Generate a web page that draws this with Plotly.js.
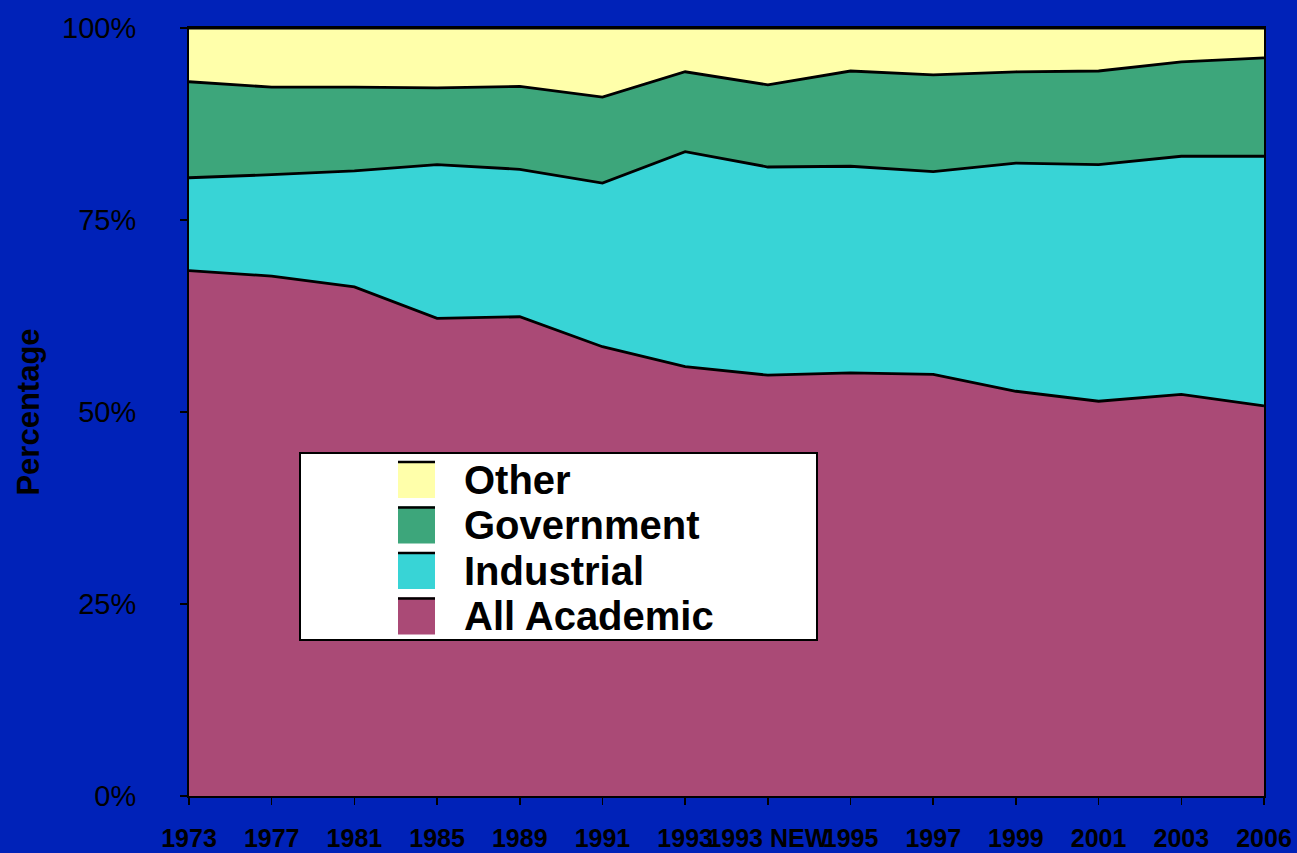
<!DOCTYPE html>
<html>
<head>
<meta charset="utf-8">
<script src="https://cdn.plot.ly/plotly-3.0.1.min.js"></script>
<style>
html,body{margin:0;padding:0;background:#0022B8;}
#chart{width:1297px;height:853px;}
</style>
</head>
<body>
<div id="chart"></div>
<script>
// ---- data ----
var years = ["1973","1977","1981","1985","1989","1991","1993","1993 NEW","1995","1997","1999","2001","2003","2006"];
var allAcademic = [68.4, 67.7, 66.3, 62.2, 62.4, 58.5, 55.9, 54.8, 55.1, 54.9, 52.7, 51.4, 52.3, 50.8];
var industrial  = [12.1, 13.2, 15.1, 20.0, 19.2, 21.3, 28.0, 27.1, 26.9, 26.4, 29.7, 30.8, 31.0, 32.5];
var government  = [12.5, 11.4, 10.9, 10.0, 10.8, 11.2, 10.4, 10.7, 12.4, 12.6, 11.9, 12.2, 12.3, 12.8];
var other       = [7.0, 7.7, 7.7, 7.8, 7.6, 9.0, 5.7, 7.4, 5.6, 6.1, 5.7, 5.6, 4.4, 3.9];
var seriesNames = ["All Academic", "Industrial", "Government", "Other"];
var seriesColors = ["#AA4A76", "#38D4D6", "#3DA67B", "#FFFFAA"];
var yTickVals = [0, 25, 50, 75, 100];
var yTickText = ["0%", "25%", "50%", "75%", "100%"];

(function () {
var seriesValues = [allAcademic, industrial, government, other];
var traces = seriesValues.map(function (vals, i) {
  return {
    type: "scatter",
    mode: "lines",
    x: years,
    y: vals,
    name: seriesNames[i],
    stackgroup: "one",
    fillcolor: seriesColors[i],
    line: {color: "#000000", width: 2.8},
    hoverinfo: "x+y+name"
  };
});

// plot area in pixels
var L = 189, R = 1264, T = 28, B = 796;
function px(xp) { return (xp - L) / (R - L); }
function py(yp) { return (B - yp) / (B - T); }

var shapes = [];
var annotations = [];
// legend box
shapes.push({type: "rect", xref: "paper", yref: "paper",
  x0: px(300), x1: px(817), y0: py(640), y1: py(453),
  fillcolor: "#FFFFFF", line: {color: "#000000", width: 2}, layer: "above"});
// legend entries, top to bottom: reversed series order
for (var k = 0; k < seriesNames.length; k++) {
  var idx = seriesNames.length - 1 - k;
  var rowTop = 461 + 45.5 * k;
  shapes.push({type: "rect", xref: "paper", yref: "paper",
    x0: px(398), x1: px(435), y0: py(rowTop + 37), y1: py(rowTop),
    fillcolor: seriesColors[idx], line: {width: 0}, layer: "above"});
  shapes.push({type: "line", xref: "paper", yref: "paper",
    x0: px(398), x1: px(435), y0: py(rowTop + 1), y1: py(rowTop + 1),
    line: {color: "#000000", width: 2.5}, layer: "above"});
  annotations.push({xref: "paper", yref: "paper", x: px(462), y: py(rowTop + 18.5),
    xanchor: "left", yanchor: "middle", showarrow: false,
    text: "<b>" + seriesNames[idx] + "</b>",
    font: {family: "Liberation Sans, Arial, sans-serif", size: 40, color: "#000000"}});
}

var layout = {
  width: 1297, height: 853,
  paper_bgcolor: "#0022B8",
  plot_bgcolor: "#0022B8",
  margin: {l: L, r: 1297 - R, t: T, b: 853 - B, pad: 0},
  showlegend: false,
  font: {family: "Liberation Sans, Arial, sans-serif", color: "#000000"},
  xaxis: {
    type: "category",
    range: [0, years.length - 1],
    autorange: false,
    showgrid: false,
    zeroline: false,
    showline: true, linecolor: "#000000", linewidth: 2, mirror: true,
    ticks: "outside", ticklen: 7, tickwidth: 1.5, tickcolor: "#000000",
    tickangle: 0,
    ticklabelstandoff: 12,
    tickfont: {family: "Liberation Sans, Arial, sans-serif", size: 25, color: "#000000", weight: "bold"}
  },
  yaxis: {
    range: [0, 100],
    autorange: false,
    tickvals: yTickVals,
    ticktext: yTickText,
    showgrid: false,
    zeroline: false,
    showline: true, linecolor: "#000000", linewidth: 2, mirror: true,
    ticks: "outside", ticklen: 7, tickwidth: 1.5, tickcolor: "#000000",
    ticklabelstandoff: 38,
    tickfont: {family: "Liberation Sans, Arial, sans-serif", size: 29, color: "#000000"},
    title: {text: "<b>Percentage</b>", standoff: 13,
      font: {family: "Liberation Sans, Arial, sans-serif", size: 31, color: "#000000"}}
  },
  shapes: shapes,
  annotations: annotations
};

Plotly.newPlot("chart", traces, layout, {displayModeBar: false, staticPlot: true});
})();
</script>
</body>
</html>
